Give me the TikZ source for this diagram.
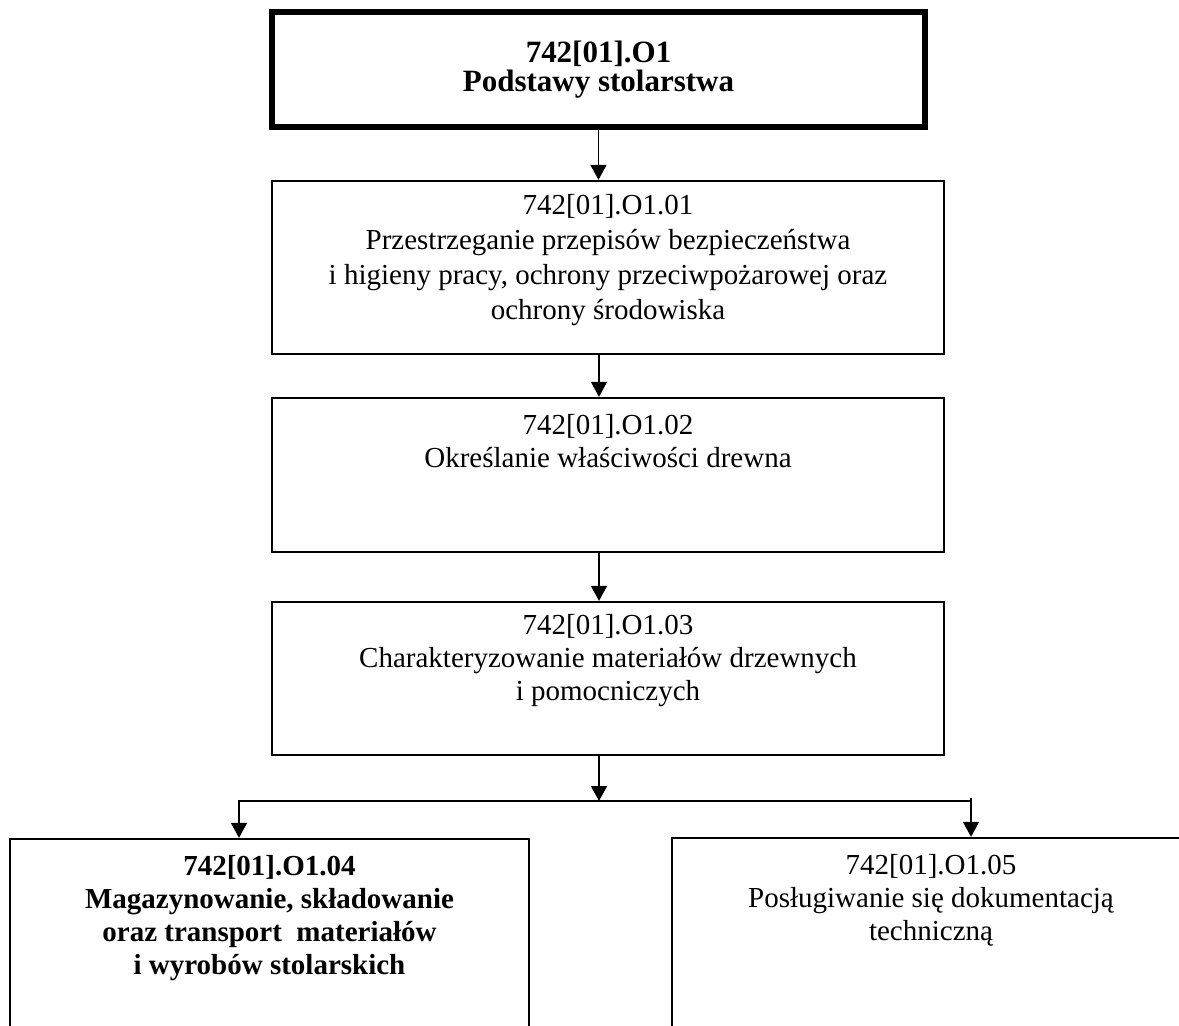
\documentclass[tikz,border=0pt]{standalone}
\usepackage{fontspec}
\setmainfont{Liberation Serif}
\usepackage{tikz}
\usetikzlibrary{positioning}
\usetikzlibrary{calc}
\usetikzlibrary{arrows.meta}
\newcommand*{\unitFont}{\fontsize{14.5}{16.5}\selectfont}
\newcommand*{\topFont}{\fontsize{15.5}{14.5}\selectfont\bfseries\lineskiplimit-20pt\relax}
\tikzset{
  unitbox/.style={% plain module box
    draw,
    line width=1.15pt,
    rectangle,
    inner sep=0pt
  },
  mainbox/.style={% thick frame of the whole module
    unitbox,
    line width=3pt,
    align=center,
    font=\topFont
  },
  unittext/.style={
    anchor=north,
    inner sep=0pt,
    align=center,
    font=\unitFont
  },
  arr/.style={
    ->,
    >={Triangle[width=8pt,length=7.5pt]},
    line width=0.8pt
  }
}

\begin{document}
\begin{tikzpicture}[x=0.5pt,y=-0.5pt]
    \useasboundingbox (0,0) rectangle (1179,1026);

    % boxes
    \node[mainbox, minimum width=326.5pt, minimum height=57.5pt] (b0) at (598.5,69.5)
        {742[01].O1\\Podstawy stolarstwa};
    \node[unitbox, minimum width=336pt, minimum height=86.5pt] (b1) at (608,267.5) {};
    \node[unitbox, minimum width=336pt, minimum height=77pt] (b2) at (608,475) {};
    \node[unitbox, minimum width=336pt, minimum height=76.5pt] (b3) at (608,678.5) {};
    \node[unitbox, minimum width=259.5pt, minimum height=120pt] (b4) at (269.5,959) {};
    \node[unitbox, minimum width=259pt, minimum height=120pt] (b5) at (931,958) {};

    % texts
    \node[unittext, font=\fontsize{14.5}{17.5}\selectfont] (t1) at ([yshift=-7pt]b1.north)
        {742[01].O1.01\\Przestrzeganie przepisów bezpieczeństwa\\i higieny pracy, ochrony przeciwpożarowej oraz\\ochrony środowiska};
    \node[unittext] (t2) at ([yshift=-8.5pt]b2.north)
        {742[01].O1.02\\Określanie właściwości drewna};
    \node[unittext] (t3) at ([yshift=-6.5pt]b3.north)
        {742[01].O1.03\\Charakteryzowanie materiałów drzewnych\\i pomocniczych};
    \node[unittext, font=\unitFont\bfseries] (t4) at ([yshift=-8.5pt]b4.north)
        {742[01].O1.04\\Magazynowanie, składowanie\\oraz transport~ materiałów\\i wyrobów stolarskich};
    \node[unittext] (t5) at ([yshift=-8.5pt]b5.north)
        {742[01].O1.05\\Posługiwanie się dokumentacją\\techniczną};

    % connectors
    \coordinate (fork) at (599,801);
    \coordinate (forkL) at (239,801);
    \coordinate (forkR) at (971,801);
    \draw[arr] (b0.south) -- (b0.south |- b1.north);
    \draw[arr] (b1.south -| fork) -- (fork |- b2.north);
    \draw[arr] (b2.south -| fork) -- (fork |- b3.north);
    \draw[arr] (b3.south -| fork) -- (fork);
    \draw[arr] (forkR) -- (forkL) -- (forkL |- b4.north);
    \draw[arr] ([yshift=1.5pt]forkR) -- (forkR |- b5.north);
\end{tikzpicture}
\end{document}
